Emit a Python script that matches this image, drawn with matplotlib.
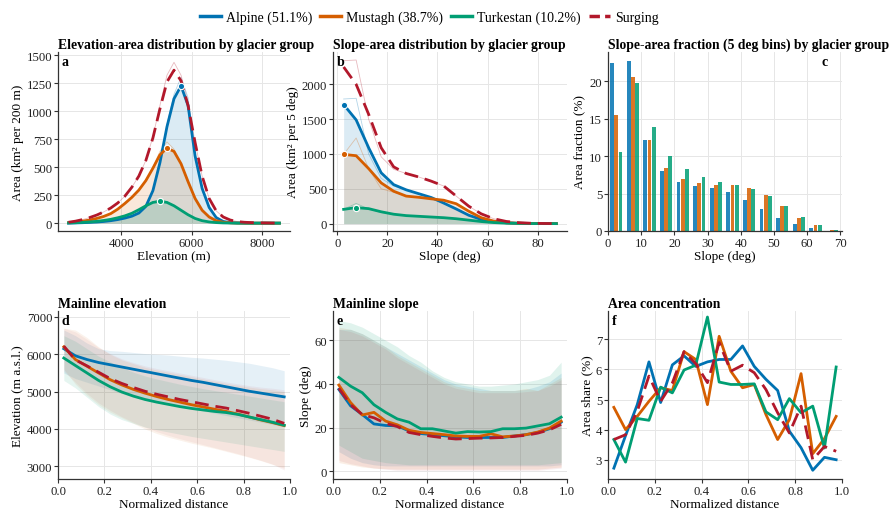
import numpy as np
import matplotlib
matplotlib.use("Agg")
import matplotlib.pyplot as plt
from matplotlib.lines import Line2D

plt.rcParams['font.family'] = ['Liberation Serif', 'DejaVu Serif']
plt.rcParams['font.size'] = 9

# ---------------- data ----------------
groups = ["Alpine (51.1%)", "Mustagh (38.7%)", "Turkestan (10.2%)", "Surging"]
colors = ["#0072B2", "#D55E00", "#009E73", "#B2182B"]

# panel a: elevation-area (km2 per 200 m), smoothed and raw
elev = [2500, 2700, 2900, 3100, 3300, 3500, 3700, 3900, 4100, 4300, 4500, 4700, 4900,
        5100, 5300, 5500, 5700, 5900, 6100, 6300, 6500, 6700, 6900, 7100, 7300, 7500,
        7700, 7900, 8100, 8300, 8500]
a_alpine = [0, 2, 4, 7, 10, 15, 22, 32, 45, 62, 90, 150, 290, 540, 860, 1110, 1225, 1050,
            600, 310, 140, 50, 15, 5, 2, 1, 0, 0, 0, 0, 0]
a_mustagh = [5, 10, 18, 28, 42, 60, 85, 125, 175, 230, 295, 380, 490, 610, 670, 640, 530,
             370, 220, 115, 55, 22, 8, 3, 1, 0, 0, 0, 0, 0, 0]
a_turk = [2, 4, 7, 11, 16, 24, 34, 48, 65, 88, 120, 155, 185, 195, 185, 155, 115, 75, 42,
          22, 11, 5, 2, 1, 0, 0, 0, 0, 0, 0, 0]
a_surg = [8, 18, 32, 50, 72, 100, 135, 180, 240, 320, 420, 560, 760, 1020, 1260, 1365,
          1270, 1050, 720, 420, 220, 110, 55, 28, 14, 8, 5, 3, 2, 1, 0]
a_alpine_raw = [0, 2, 4, 7, 10, 15, 22, 32, 45, 62, 90, 150, 290, 540, 880, 1150, 1300, 1120,
                610, 300, 140, 50, 15, 5, 2, 1, 0, 0, 0, 0, 0]
a_mustagh_raw = [5, 10, 18, 28, 42, 60, 85, 125, 175, 230, 295, 380, 500, 640, 725, 660, 530,
                 370, 220, 115, 55, 22, 8, 3, 1, 0, 0, 0, 0, 0, 0]
a_turk_raw = [2, 4, 7, 11, 16, 24, 34, 48, 65, 88, 120, 155, 190, 208, 190, 155, 115, 75, 42,
              22, 11, 5, 2, 1, 0, 0, 0, 0, 0, 0, 0]
a_surg_raw = [8, 18, 32, 50, 72, 100, 135, 180, 240, 320, 420, 560, 770, 1050, 1320, 1435,
              1320, 1080, 720, 420, 220, 110, 55, 28, 14, 8, 5, 3, 2, 1, 0]

# panel b: slope-area (km2 per 5 deg), smoothed and raw
slope_mid = [2.5, 7.5, 12.5, 17.5, 22.5, 27.5, 32.5, 37.5, 42.5, 47.5, 52.5, 57.5, 62.5,
             67.5, 72.5, 77.5, 82.5, 87.5]
b_alpine = [1710, 1490, 1090, 730, 560, 485, 430, 375, 295, 210, 120, 60, 28, 12, 5, 2, 1, 0]
b_mustagh = [995, 975, 790, 585, 465, 395, 378, 356, 336, 285, 178, 85, 36, 12, 5, 2, 1, 0]
b_turk = [205, 230, 215, 170, 135, 115, 105, 95, 85, 70, 50, 30, 15, 7, 3, 1, 0, 0]
b_surg = [2250, 2000, 1570, 1090, 815, 720, 670, 610, 540, 395, 250, 140, 70, 31, 14, 5, 2, 0]
b_alpine_raw = [1790, 1800, 1000, 650, 540, 480, 430, 375, 295, 210, 120, 60, 28, 12, 5, 2, 1, 0]
b_mustagh_raw = [995, 1230, 790, 500, 450, 395, 378, 356, 336, 285, 178, 85, 36, 12, 5, 2, 1, 0]
b_turk_raw = [205, 290, 210, 160, 130, 115, 105, 95, 85, 70, 50, 30, 15, 7, 3, 1, 0, 0]
b_surg_raw = [2340, 2350, 1500, 960, 780, 720, 670, 610, 540, 395, 250, 140, 70, 31, 14, 5, 2, 0]

# panel c: slope-area fraction (%) in 5 deg bins
c_bins = [2.5, 7.5, 12.5, 17.5, 22.5, 27.5, 32.5, 37.5, 42.5, 47.5, 52.5, 57.5, 62.5, 67.5]
c_alpine = [22.4, 22.7, 12.1, 8.0, 6.6, 6.0, 5.8, 5.2, 4.2, 2.9, 1.8, 0.9, 0.35, 0.05]
c_mustagh = [15.5, 20.5, 12.1, 8.4, 7.0, 6.4, 6.2, 6.2, 5.8, 4.8, 3.3, 1.8, 0.75, 0.15]
c_turk = [10.5, 19.7, 13.9, 10.0, 8.3, 7.2, 6.6, 6.2, 5.6, 4.7, 3.3, 1.9, 0.8, 0.2]

# panels d-f: normalized distance
ndist = [0.025, 0.075, 0.125, 0.175, 0.225, 0.275, 0.325, 0.375, 0.425, 0.475, 0.525,
         0.575, 0.625, 0.675, 0.725, 0.775, 0.825, 0.875, 0.925, 0.975]

d_alpine = [6150, 5960, 5860, 5780, 5720, 5660, 5600, 5540, 5480, 5420, 5360, 5300, 5250,
            5190, 5130, 5070, 5010, 4960, 4910, 4860]
d_mustagh = [6200, 5860, 5680, 5500, 5320, 5180, 5060, 4960, 4870, 4790, 4720, 4650, 4590,
             4530, 4470, 4400, 4320, 4240, 4170, 4090]
d_turk = [5900, 5700, 5500, 5300, 5130, 4990, 4880, 4790, 4720, 4660, 4600, 4550, 4510,
          4470, 4440, 4390, 4320, 4250, 4180, 4100]
d_surg = [6220, 5850, 5690, 5520, 5350, 5220, 5110, 5010, 4930, 4860, 4790, 4730, 4670,
          4610, 4560, 4490, 4420, 4340, 4260, 4150]
d_alpine_lo = [5500, 5350, 5250, 5150, 5050, 4950, 4850, 4780, 4720, 4660, 4600, 4540, 4480,
               4420, 4360, 4300, 4240, 4180, 4120, 4060]
d_alpine_hi = [6650, 6500, 6300, 6150, 6100, 6080, 6050, 6020, 6000, 5980, 5950, 5920, 5900,
               5870, 5840, 5800, 5760, 5700, 5640, 5560]
d_mustagh_lo = [5600, 5200, 4900, 4650, 4450, 4300, 4150, 4000, 3880, 3780, 3700, 3620, 3550,
                3480, 3400, 3320, 3240, 3150, 3050, 2950]
d_mustagh_hi = [6700, 6650, 6450, 6200, 6000, 5850, 5750, 5650, 5580, 5520, 5460, 5400, 5340,
                5280, 5220, 5170, 5120, 5080, 5050, 5000]
d_turk_lo = [5300, 5100, 4850, 4600, 4400, 4250, 4150, 4050, 3980, 3920, 3860, 3800, 3750,
             3700, 3650, 3600, 3550, 3500, 3450, 3400]
d_turk_hi = [6500, 6350, 6150, 5950, 5800, 5650, 5520, 5420, 5340, 5270, 5200, 5140, 5080,
             5030, 4980, 4930, 4880, 4830, 4780, 4730]
d_surg_lo = [5550, 5250, 4950, 4700, 4500, 4330, 4180, 4050, 3930, 3830, 3740, 3660, 3580,
             3500, 3420, 3340, 3250, 3160, 3060, 2900]
d_surg_hi = [6700, 6600, 6400, 6180, 6020, 5880, 5780, 5690, 5620, 5560, 5500, 5440, 5380,
             5320, 5260, 5210, 5160, 5120, 5090, 5050]

e_alpine = [37.5, 30, 26, 21.7, 21, 20.8, 18.5, 17.3, 16.8, 16.3, 15.8, 15.5, 15.5, 15.5,
            15.5, 16.2, 16.8, 17.8, 19.5, 22.5]
e_mustagh = [39.5, 31.5, 25.8, 27, 23, 21.3, 18.8, 17.8, 17.3, 16.8, 16.2, 16, 16, 17.2,
             15.8, 16.2, 16.8, 18, 19.8, 23]
e_turk = [43, 39, 36, 30.5, 27, 24, 22.5, 19.5, 19.5, 18.5, 17.5, 18.2, 18, 18.2, 19.5,
          19.5, 19.8, 20.8, 21.8, 24.8]
e_surg = [38, 30.5, 26, 24.5, 22, 20.5, 17.8, 16.8, 16, 15.3, 14.8, 15, 15.2, 15.3, 15.5,
          16, 16.5, 17.5, 19, 21.5]
e_alpine_lo = [9, 6, 4, 3, 2.5, 2.5, 2.5, 2.5, 2.5, 2.5, 2.5, 2.5, 2.5, 2.5, 2.5, 2.5, 2.5,
               2.5, 2.5, 3]
e_alpine_hi = [65, 65, 63, 60, 57, 54, 51, 48, 45, 42, 40, 39, 38, 37, 37, 37, 37.5, 39, 41, 45]
e_mustagh_lo = [4, 3, 2, 1.5, 1.2, 1, 1, 1, 1, 1, 1, 1, 1, 1, 1, 1, 1, 1, 1.5, 2]
e_mustagh_hi = [66, 65, 63, 60, 57, 53, 50, 47, 44, 41, 39, 38, 37, 37, 37, 37, 38, 37, 40, 43]
e_turk_lo = [12, 9, 6, 5, 4, 3.5, 3, 3, 3, 3, 3, 3, 3, 3, 3, 3, 3, 3, 3.5, 4]
e_turk_hi = [69, 68, 66, 63, 60, 57, 53, 50, 46, 43, 41, 40, 39, 39, 39.5, 40, 41, 42, 44, 50]
e_surg_lo = [5, 3.5, 2.5, 1.5, 1, 0.5, 0.5, 0.5, 0.5, 0.5, 0.5, 0.5, 0.5, 0.5, 0.5, 0.5, 0.5,
             0.5, 1, 1.5]
e_surg_hi = [65, 64, 62, 59, 56, 52, 49, 46, 43, 40, 38, 37, 36, 36, 36, 36, 36.5, 37, 39, 42]

f_alpine = [2.72, 3.8, 4.83, 6.25, 4.9, 6.15, 6.45, 6.1, 6.25, 6.33, 6.33, 6.78, 6.1, 5.67,
            5.3, 3.95, 3.4, 2.65, 3.08, 3.0]
f_mustagh = [4.74, 4.0, 4.44, 4.94, 5.39, 5.3, 6.59, 6.33, 4.83, 7.1, 5.94, 5.39, 5.5, 4.5,
             3.67, 4.33, 5.86, 3.2, 3.7, 4.44]
f_turk = [3.67, 2.92, 4.37, 4.31, 5.41, 5.22, 5.98, 6.14, 7.74, 5.58, 5.5, 5.5, 5.52, 4.59,
          4.33, 5.03, 4.56, 4.78, 3.39, 6.08]
f_surg = [3.67, 3.83, 4.61, 5.78, 4.94, 5.55, 6.59, 6.19, 5.56, 6.89, 5.94, 6.14, 5.89, 5.33,
          4.56, 3.89, 4.78, 3.0, 3.44, 3.28]

# ---------------- figure ----------------
W, H = 896, 510
fig = plt.figure(figsize=(W / 100, H / 100), dpi=100)


def make_ax(l, r, t, b):
    return fig.add_axes([l / W, 1 - b / H, (r - l) / W, (b - t) / H])


def style(ax):
    for s in ["top", "right"]:
        ax.spines[s].set_visible(False)
    for s in ["left", "bottom"]:
        ax.spines[s].set_color("#333333")
        ax.spines[s].set_linewidth(0.9)
    ax.grid(True, color="#e6e6e6", linewidth=0.7)
    ax.set_axisbelow(True)
    ax.tick_params(axis="both", length=3, width=0.8, color="#333333", labelsize=9.2,
                   labelcolor="#222222", pad=1.2)


title_kw = dict(fontsize=9.8, fontweight="bold", loc="left", pad=3)
lab_kw = dict(fontsize=9.5)

axA = make_ax(58, 290, 53, 232)
axB = make_ax(333, 567, 53, 232)
axC = make_ax(608, 842, 53, 232)
axD = make_ax(58, 290, 312, 480)
axE = make_ax(333, 567, 312, 480)
axF = make_ax(608, 842, 312, 480)
for ax in (axA, axB, axC, axD, axE, axF):
    style(ax)

lw = 2.0
dash = (0, (5, 2.5))
# ---- panel a ----
ser_a = [a_alpine, a_mustagh, a_turk]
raw_a = [a_alpine_raw, a_mustagh_raw, a_turk_raw, a_surg_raw]
for vals, c in zip(ser_a, colors[:3]):
    axA.fill_between(elev, 0, vals, color=c, alpha=0.14, linewidth=0)
for vals, c in zip(raw_a, colors):
    axA.plot(elev, vals, color=c, lw=0.6, alpha=0.3)
for vals, c in zip(ser_a, colors[:3]):
    axA.plot(elev, vals, color=c, lw=lw)
axA.plot(elev, a_surg, color=colors[3], lw=lw, ls=dash)
for vals, c in zip(ser_a, colors[:3]):
    i = int(np.argmax(vals))
    axA.plot(elev[i], vals[i], "o", ms=4.5, color=c, mec="white", mew=0.8, zorder=5)
axA.set_xlim(2200, 8800)
axA.set_ylim(-70, 1527)
axA.set_xticks([4000, 6000, 8000])
axA.set_yticks([0, 250, 500, 750, 1000, 1250, 1500])
axA.set_xlabel("Elevation (m)", labelpad=0.5, **lab_kw)
axA.set_ylabel("Area (km² per 200 m)", labelpad=2, **lab_kw)
axA.set_title("Elevation-area distribution by glacier group", **title_kw)

# ---- panel b ----
ser_b = [b_alpine, b_mustagh, b_turk]
raw_b = [b_alpine_raw, b_mustagh_raw, b_turk_raw, b_surg_raw]
for vals, c in zip(ser_b, colors[:3]):
    axB.fill_between(slope_mid, 0, vals, color=c, alpha=0.14, linewidth=0)
for vals, c in zip(raw_b, colors):
    axB.plot(slope_mid, vals, color=c, lw=0.6, alpha=0.3)
for vals, c in zip(ser_b, colors[:3]):
    axB.plot(slope_mid, vals, color=c, lw=lw)
axB.plot(slope_mid, b_surg, color=colors[3], lw=lw, ls=dash)
for vals, c in zip(ser_b, colors[:3]):
    i = int(np.argmax(vals))
    axB.plot(slope_mid[i], vals[i], "o", ms=4.5, color=c, mec="white", mew=0.8, zorder=5)
axB.set_xlim(-1.75, 91.75)
axB.set_ylim(-106, 2465)
axB.set_xticks([0, 20, 40, 60, 80])
axB.set_yticks([0, 500, 1000, 1500, 2000])
axB.set_xlabel("Slope (deg)", labelpad=0.5, **lab_kw)
axB.set_ylabel("Area (km² per 5 deg)", labelpad=2, **lab_kw)
axB.set_title("Slope-area distribution by glacier group", **title_kw)

# ---- panel c ----
bw = 1.15
cb = np.array(c_bins)
for off, vals, c in zip([-1.25, 0, 1.25], [c_alpine, c_mustagh, c_turk], colors[:3]):
    axC.bar(cb + off, vals, width=bw, color=c, alpha=0.85, linewidth=0)
axC.set_xlim(0, 70.5)
axC.set_ylim(0, 23.9)
axC.set_xticks(range(0, 71, 10))
axC.set_yticks([0, 5, 10, 15, 20])
axC.set_xlabel("Slope (deg)", labelpad=0.5, **lab_kw)
axC.set_ylabel("Area fraction (%)", labelpad=2, **lab_kw)
axC.set_title("Slope-area fraction (5 deg bins) by glacier group", **title_kw)

# ---- panel d ----
band_alpha = [0.10, 0.08, 0.10, 0.06]
d_lines = [d_alpine, d_mustagh, d_turk, d_surg]
d_lo = [d_alpine_lo, d_mustagh_lo, d_turk_lo, d_surg_lo]
d_hi = [d_alpine_hi, d_mustagh_hi, d_turk_hi, d_surg_hi]
for lo, hi, c, al in zip(d_lo, d_hi, colors, band_alpha):
    axD.fill_between(ndist, lo, hi, color=c, alpha=al, linewidth=0)
for k, (vals, c) in enumerate(zip(d_lines, colors)):
    axD.plot(ndist, vals, color=c, lw=lw, ls=dash if k == 3 else "-")
axD.set_xlim(0, 1)
axD.set_ylim(2660, 7160)
axD.set_xticks([0, 0.2, 0.4, 0.6, 0.8, 1.0])
axD.set_xticklabels(["0.0", "0.2", "0.4", "0.6", "0.8", "1.0"])
axD.set_yticks([3000, 4000, 5000, 6000, 7000])
axD.set_xlabel("Normalized distance", labelpad=0.5, **lab_kw)
axD.set_ylabel("Elevation (m a.s.l.)", labelpad=2, **lab_kw)
axD.set_title("Mainline elevation", **title_kw)

# ---- panel e ----
e_lines = [e_alpine, e_mustagh, e_turk, e_surg]
e_lo = [e_alpine_lo, e_mustagh_lo, e_turk_lo, e_surg_lo]
e_hi = [e_alpine_hi, e_mustagh_hi, e_turk_hi, e_surg_hi]
for lo, hi, c, al in zip(e_lo, e_hi, colors, band_alpha):
    axE.fill_between(ndist, lo, hi, color=c, alpha=al + 0.02, linewidth=0)
for k, (vals, c) in enumerate(zip(e_lines, colors)):
    axE.plot(ndist, vals, color=c, lw=lw, ls=dash if k == 3 else "-")
axE.set_xlim(0, 1)
axE.set_ylim(-3.5, 73.4)
axE.set_xticks([0, 0.2, 0.4, 0.6, 0.8, 1.0])
axE.set_xticklabels(["0.0", "0.2", "0.4", "0.6", "0.8", "1.0"])
axE.set_yticks([0, 20, 40, 60])
axE.set_xlabel("Normalized distance", labelpad=0.5, **lab_kw)
axE.set_ylabel("Slope (deg)", labelpad=2, **lab_kw)
axE.set_title("Mainline slope", **title_kw)

# ---- panel f ----
f_lines = [f_alpine, f_mustagh, f_turk, f_surg]
for k, (vals, c) in enumerate(zip(f_lines, colors)):
    axF.plot(ndist, vals, color=c, lw=lw, ls=dash if k == 3 else "-")
axF.set_xlim(0, 1)
axF.set_ylim(2.36, 7.94)
axF.set_xticks([0, 0.2, 0.4, 0.6, 0.8, 1.0])
axF.set_xticklabels(["0.0", "0.2", "0.4", "0.6", "0.8", "1.0"])
axF.set_yticks([3, 4, 5, 6, 7])
axF.set_xlabel("Normalized distance", labelpad=0.5, **lab_kw)
axF.set_ylabel("Area share (%)", labelpad=2, **lab_kw)
axF.set_title("Area concentration", **title_kw)

# panel letters
for ax, letter in zip((axA, axB, axD, axE, axF), "abdef"):
    ax.text(0.015, 0.985, letter, transform=ax.transAxes, ha="left", va="top",
            fontsize=10, fontweight="bold")
axC.text(0.94, 0.985, "c", transform=axC.transAxes, ha="right", va="top",
         fontsize=10, fontweight="bold")

# legend
handles = [Line2D([0], [0], color=c, lw=2.5, ls=(0, (3, 1.5)) if k == 3 else "-")
           for k, c in enumerate(colors)]
fig.legend(handles, groups, loc="center", bbox_to_anchor=(0.479, 0.964), ncol=4,
           frameon=False, fontsize=10, handlelength=1.5, columnspacing=0.6,
           handletextpad=0.35)

fig.savefig("out.png", dpi=100)
